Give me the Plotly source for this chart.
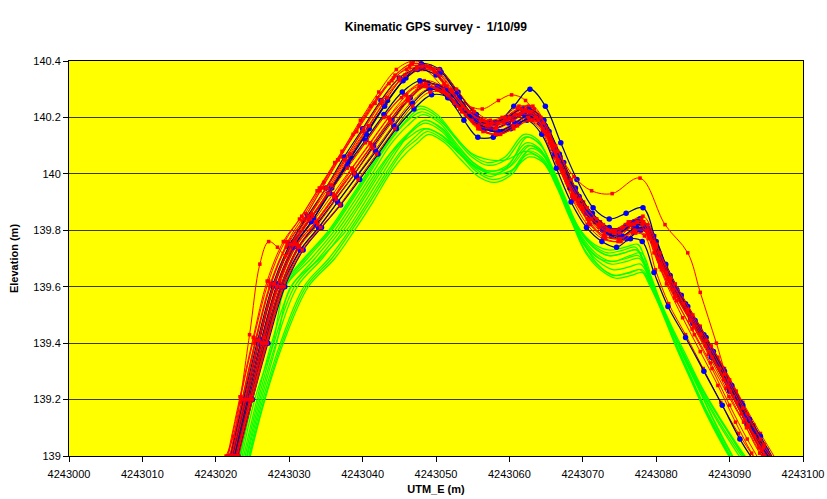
import plotly.graph_objects as go

# Easting values are stored as metres east of this origin (UTM_E, m)
EASTING_ORIGIN = 4243000

# ---- red survey passes (GPS fixes) ----
r1_x = [21.8, 23.5, 25.3, 27.4, 29.6, 31.8, 34.2, 36.7, 39.2, 41.7, 44.2, 46.6, 48.9, 51.3, 53.8, 56.3, 58.5, 60.3, 62.2, 64.0, 66.0, 68.1, 70.2, 72.4, 74.6, 76.5, 78.2, 79.8, 81.4, 83.5, 86.0, 88.4, 90.9, 93.3, 95.6]
r1_y = [138.98, 139.19, 139.40, 139.60, 139.74, 139.83, 139.94, 140.05, 140.15, 140.25, 140.34, 140.39, 140.38, 140.31, 140.25, 140.23, 140.26, 140.28, 140.26, 140.18, 140.06, 139.95, 139.87, 139.82, 139.80, 139.83, 139.85, 139.78, 139.67, 139.57, 139.46, 139.35, 139.23, 139.11, 138.99]

r2_x = [22.2, 24.0, 25.9, 28.0, 30.4, 33.0, 35.6, 38.2, 40.8, 43.3, 45.8, 48.2, 50.6, 53.1, 55.6, 58.0, 60.4, 62.6, 64.7, 66.8, 69.0, 71.3, 73.6, 75.8, 77.8, 79.6, 81.6, 84.2, 86.8, 89.3, 91.8, 94.2, 96.5]
r2_y = [139.00, 139.20, 139.41, 139.61, 139.76, 139.86, 139.96, 140.07, 140.17, 140.27, 140.35, 140.38, 140.35, 140.27, 140.20, 140.18, 140.21, 140.24, 140.18, 140.06, 139.94, 139.85, 139.80, 139.82, 139.83, 139.76, 139.64, 139.53, 139.42, 139.31, 139.19, 139.08, 138.98]

r3_x = [21.6, 23.3, 25.1, 27.0, 29.2, 31.4, 33.8, 36.2, 38.7, 41.1, 43.6, 46.0, 48.4, 50.8, 53.3, 55.8, 58.2, 60.6, 62.8, 64.9, 67.0, 69.2, 71.5, 73.8, 75.9, 77.7, 79.3, 81.0, 83.3, 85.8, 88.3, 90.7, 93.1, 95.2]
r3_y = [139.00, 139.21, 139.42, 139.62, 139.76, 139.84, 139.94, 140.04, 140.14, 140.24, 140.32, 140.37, 140.37, 140.31, 140.23, 140.18, 140.17, 140.20, 140.23, 140.17, 140.05, 139.93, 139.84, 139.79, 139.81, 139.84, 139.79, 139.68, 139.57, 139.46, 139.34, 139.22, 139.10, 138.99]

r4_x = [22.4, 24.2, 26.1, 28.2, 30.6, 33.1, 35.7, 38.3, 40.8, 43.2, 45.6, 47.9, 50.2, 52.6, 55.0, 57.4, 59.7, 61.8, 63.8, 65.8, 67.9, 70.1, 72.4, 74.6, 76.7, 78.5, 80.3, 82.4, 84.9, 87.4, 89.9, 92.4, 94.8, 96.9]
r4_y = [138.99, 139.19, 139.40, 139.60, 139.75, 139.85, 139.95, 140.06, 140.16, 140.25, 140.33, 140.37, 140.36, 140.30, 140.23, 140.19, 140.20, 140.23, 140.21, 140.12, 140.00, 139.90, 139.83, 139.80, 139.83, 139.81, 139.70, 139.60, 139.49, 139.38, 139.26, 139.14, 139.03, 138.96]

r5_x = [22.0, 23.7, 25.5, 27.5, 29.8, 32.2, 34.7, 37.2, 39.7, 42.2, 44.6, 46.9, 49.2, 51.6, 54.0, 56.4, 58.8, 61.1, 63.2, 65.2, 67.3, 69.5, 71.8, 74.0, 76.1, 78.0, 79.7, 81.6, 84.0, 86.5, 89.0, 91.5, 93.9, 96.0]
r5_y = [139.00, 139.20, 139.41, 139.61, 139.76, 139.86, 139.97, 140.08, 140.19, 140.29, 140.37, 140.40, 140.38, 140.30, 140.22, 140.18, 140.19, 140.23, 140.24, 140.16, 140.03, 139.92, 139.84, 139.80, 139.82, 139.84, 139.75, 139.63, 139.52, 139.41, 139.29, 139.17, 139.06, 138.97]

r6_x = [22.8, 24.7, 26.7, 28.9, 31.3, 33.8, 36.3, 38.8, 41.3, 43.8, 46.2, 48.6, 51.0, 53.4, 55.8, 58.2, 60.6, 62.8, 64.8, 66.8, 68.9, 71.1, 73.3, 75.4, 77.3, 79.0, 80.7, 82.8, 85.3, 87.8, 90.3, 92.7, 95.0, 97.0]
r6_y = [139.00, 139.20, 139.40, 139.60, 139.74, 139.83, 139.92, 140.01, 140.10, 140.19, 140.27, 140.32, 140.30, 140.23, 140.17, 140.15, 140.18, 140.21, 140.16, 140.05, 139.93, 139.84, 139.79, 139.78, 139.81, 139.79, 139.68, 139.58, 139.47, 139.36, 139.24, 139.13, 139.02, 138.95]

r7_x = [22.5, 24.4, 26.4, 28.6, 31.0, 33.5, 36.0, 38.5, 41.0, 43.5, 46.0, 48.4, 50.8, 53.2, 55.6, 58.0, 60.3, 62.4, 64.4, 66.4, 68.5, 70.7, 72.9, 75.0, 77.0, 78.7, 80.4, 82.5, 85.0, 87.5, 90.0, 92.4, 94.6, 96.6]
r7_y = [139.00, 139.21, 139.41, 139.61, 139.75, 139.84, 139.93, 140.02, 140.11, 140.20, 140.28, 140.33, 140.31, 140.24, 140.18, 140.16, 140.19, 140.22, 140.18, 140.07, 139.95, 139.86, 139.80, 139.78, 139.82, 139.80, 139.69, 139.58, 139.47, 139.36, 139.24, 139.12, 139.02, 138.95]

r8_x = [22.3, 24.1, 26.0, 28.1, 30.5, 33.0, 35.5, 38.0, 40.6, 43.1, 45.6, 48.0, 50.4, 52.8, 55.2, 57.6, 60.0, 62.2, 64.2, 66.2, 68.2, 70.3, 72.5, 74.7, 76.8, 78.6, 80.2, 82.1, 84.5, 86.9, 89.4, 91.8, 94.1, 96.2]
r8_y = [139.00, 139.20, 139.41, 139.61, 139.76, 139.85, 139.94, 140.03, 140.12, 140.21, 140.28, 140.32, 140.30, 140.24, 140.18, 140.16, 140.18, 140.21, 140.19, 140.09, 139.97, 139.88, 139.82, 139.79, 139.81, 139.82, 139.73, 139.62, 139.51, 139.40, 139.28, 139.16, 139.05, 138.97]

r9_x = [23.0, 24.9, 26.9, 29.2, 31.6, 34.1, 36.6, 39.1, 41.6, 44.1, 46.5, 48.9, 51.3, 53.7, 56.1, 58.5, 60.8, 62.9, 64.8, 66.7, 68.6, 70.6, 72.7, 74.8, 76.8, 78.4, 79.9, 81.7, 84.0, 86.4, 88.8, 91.2, 93.5, 95.4]
r9_y = [139.00, 139.20, 139.40, 139.60, 139.73, 139.81, 139.90, 139.99, 140.08, 140.17, 140.25, 140.30, 140.29, 140.22, 140.16, 140.14, 140.17, 140.20, 140.15, 140.03, 139.91, 139.82, 139.77, 139.76, 139.79, 139.78, 139.66, 139.54, 139.43, 139.31, 139.19, 139.08, 138.99, 138.93]

r10_x = [22.6, 24.5, 26.5, 28.7, 31.1, 33.6, 36.1, 38.6, 41.1, 43.6, 46.1, 48.5, 50.9, 53.3, 55.7, 58.1, 60.4, 62.5, 64.5, 66.5, 68.5, 70.6, 72.8, 74.9, 76.9, 78.6, 80.2, 82.2, 84.6, 87.1, 89.5, 91.9, 94.1, 96.0]
r10_y = [139.00, 139.20, 139.41, 139.61, 139.75, 139.83, 139.92, 140.02, 140.11, 140.20, 140.27, 140.31, 140.29, 140.23, 140.17, 140.15, 140.17, 140.19, 140.15, 140.04, 139.92, 139.84, 139.78, 139.77, 139.80, 139.80, 139.70, 139.59, 139.48, 139.36, 139.24, 139.12, 139.01, 138.95]

r11_x = [22.9, 24.8, 26.8, 29.0, 31.4, 33.9, 36.4, 38.9, 41.4, 43.9, 46.3, 48.7, 51.1, 53.5, 55.9, 58.3, 60.6, 62.7, 64.7, 66.7, 68.7, 70.8, 73.0, 75.1, 77.1, 78.8, 80.5, 82.6, 85.1, 87.6, 90.1, 92.5, 94.8, 96.8]
r11_y = [139.00, 139.20, 139.40, 139.60, 139.74, 139.82, 139.91, 140.00, 140.09, 140.18, 140.26, 140.31, 140.29, 140.22, 140.16, 140.14, 140.16, 140.19, 140.15, 140.04, 139.92, 139.83, 139.78, 139.77, 139.80, 139.79, 139.68, 139.57, 139.46, 139.35, 139.23, 139.11, 139.00, 138.93]

r12_x = [22.1, 23.9, 25.8, 27.9, 30.2, 32.6, 35.1, 37.6, 40.1, 42.6, 45.0, 47.4, 49.7, 52.1, 54.5, 56.9, 59.2, 61.4, 63.5, 65.5, 67.6, 69.8, 72.0, 74.2, 76.3, 78.2, 79.9, 81.8, 84.2, 86.7, 89.2, 91.6, 94.0, 96.2]
r12_y = [139.00, 139.20, 139.41, 139.61, 139.75, 139.85, 139.95, 140.05, 140.16, 140.26, 140.34, 140.38, 140.37, 140.30, 140.22, 140.17, 140.18, 140.21, 140.20, 140.11, 139.99, 139.89, 139.82, 139.79, 139.82, 139.83, 139.74, 139.62, 139.51, 139.39, 139.27, 139.15, 139.03, 138.96]

# pass with a spurious jump near the start of the profile
r13_x = [21.4, 22.4, 24.6, 26.0, 27.2, 28.4, 29.5, 30.8, 32.6, 35.0, 37.5, 40.0, 42.5, 45.0, 47.4, 49.8, 52.2, 54.6, 57.0, 59.4, 61.6, 63.7, 65.7, 67.8, 70.0, 72.2, 74.4, 76.5, 78.3, 80.0, 81.9, 84.3, 86.8, 89.3, 91.8, 94.2, 96.4]
r13_y = [139.00, 139.07, 139.43, 139.68, 139.76, 139.74, 139.71, 139.76, 139.84, 139.95, 140.05, 140.15, 140.25, 140.33, 140.37, 140.36, 140.29, 140.22, 140.18, 140.20, 140.23, 140.20, 140.10, 139.97, 139.88, 139.82, 139.80, 139.82, 139.83, 139.75, 139.63, 139.52, 139.41, 139.29, 139.17, 139.06, 138.97]

# pass that stays high over the shoulder east of the second hump
r14_x = [22.7, 24.6, 26.6, 28.8, 31.2, 33.7, 36.2, 38.7, 41.2, 43.7, 46.2, 48.6, 51.0, 53.4, 55.8, 58.2, 60.5, 62.6, 64.6, 66.6, 68.8, 71.2, 74.0, 77.8, 81.2, 84.3, 86.0, 88.2, 90.5, 92.6, 94.6, 96.6]
r14_y = [139.00, 139.20, 139.40, 139.60, 139.74, 139.83, 139.92, 140.01, 140.10, 140.19, 140.27, 140.32, 140.30, 140.23, 140.17, 140.16, 140.19, 140.22, 140.18, 140.08, 139.99, 139.94, 139.93, 139.985, 139.82, 139.72, 139.58, 139.40, 139.21, 139.11, 139.03, 138.96]

r15_x = [21.9, 23.6, 25.4, 27.4, 29.7, 32.0, 34.5, 37.0, 39.5, 42.0, 44.4, 46.8, 49.1, 51.5, 54.0, 56.5, 59.0, 61.3, 63.4, 65.4, 67.4, 69.6, 71.9, 74.1, 76.2, 78.0, 79.6, 81.4, 83.7, 86.1, 88.6, 91.0, 93.4, 95.5]
r15_y = [139.00, 139.20, 139.41, 139.61, 139.75, 139.84, 139.95, 140.06, 140.17, 140.27, 140.35, 140.39, 140.38, 140.31, 140.23, 140.19, 140.20, 140.24, 140.23, 140.14, 140.01, 139.91, 139.84, 139.80, 139.83, 139.84, 139.76, 139.65, 139.54, 139.43, 139.31, 139.19, 139.07, 138.98]

r16_x = [23.1, 25.0, 27.0, 29.3, 31.8, 34.3, 36.9, 39.4, 41.9, 44.4, 46.8, 49.2, 51.6, 54.0, 56.4, 58.8, 61.1, 63.2, 65.1, 67.0, 69.0, 71.0, 73.1, 75.2, 77.2, 78.9, 80.5, 82.5, 84.9, 87.4, 89.9, 92.3, 94.5, 96.4]
r16_y = [139.00, 139.20, 139.40, 139.60, 139.73, 139.81, 139.89, 139.98, 140.07, 140.16, 140.24, 140.29, 140.28, 140.21, 140.15, 140.14, 140.17, 140.19, 140.14, 140.03, 139.91, 139.82, 139.77, 139.76, 139.79, 139.78, 139.67, 139.56, 139.45, 139.33, 139.21, 139.10, 139.00, 138.94]

r17_x = [22.2, 24.0, 25.9, 28.0, 30.4, 32.9, 35.4, 37.9, 40.4, 42.9, 45.3, 47.7, 50.1, 52.5, 54.9, 57.3, 59.7, 61.9, 63.9, 65.9, 67.9, 70.0, 72.2, 74.4, 76.5, 78.2, 79.7, 81.4, 83.6, 86.0, 88.4, 90.8, 93.0, 94.8]
r17_y = [139.00, 139.20, 139.41, 139.61, 139.75, 139.84, 139.93, 140.02, 140.11, 140.20, 140.27, 140.31, 140.30, 140.25, 140.19, 140.17, 140.19, 140.22, 140.19, 140.09, 139.97, 139.87, 139.81, 139.79, 139.82, 139.82, 139.72, 139.61, 139.49, 139.37, 139.25, 139.12, 139.01, 138.93]

r18_x = [21.7, 23.4, 25.2, 27.2, 29.4, 31.7, 34.1, 36.6, 39.1, 41.6, 44.0, 46.4, 48.7, 51.1, 53.6, 56.1, 58.5, 60.8, 62.9, 64.9, 66.9, 69.0, 71.2, 73.4, 75.5, 77.4, 79.0, 80.7, 82.8, 85.2, 87.6, 90.0, 92.4, 94.4]
r18_y = [139.00, 139.21, 139.42, 139.62, 139.76, 139.85, 139.95, 140.05, 140.15, 140.25, 140.33, 140.38, 140.38, 140.32, 140.24, 140.19, 140.18, 140.21, 140.22, 140.15, 140.03, 139.92, 139.84, 139.80, 139.81, 139.83, 139.77, 139.66, 139.55, 139.43, 139.31, 139.18, 139.06, 138.97]

r19_x = [22.9, 24.7, 26.6, 28.7, 31.1, 33.6, 36.1, 38.7, 41.2, 43.7, 46.1, 48.5, 50.9, 53.3, 55.7, 58.1, 60.5, 62.6, 64.6, 66.6, 68.6, 70.7, 72.9, 75.0, 77.0, 78.7, 80.3, 82.3, 84.7, 87.2, 89.7, 92.1, 94.4, 96.3]
r19_y = [139.00, 139.21, 139.42, 139.62, 139.75, 139.83, 139.92, 140.01, 140.10, 140.19, 140.26, 140.31, 140.29, 140.23, 140.16, 140.14, 140.17, 140.20, 140.16, 140.05, 139.93, 139.84, 139.79, 139.77, 139.80, 139.80, 139.70, 139.59, 139.48, 139.37, 139.25, 139.13, 139.02, 138.95]

r20_x = [22.4, 24.2, 26.2, 28.3, 30.7, 33.2, 35.8, 38.4, 40.9, 43.4, 45.8, 48.1, 50.4, 52.8, 55.2, 57.6, 60.0, 62.2, 64.3, 66.3, 68.4, 70.6, 72.8, 75.0, 77.0, 78.8, 80.5, 82.6, 85.0, 87.5, 90.0, 92.4, 94.7, 96.7]
r20_y = [139.00, 139.20, 139.40, 139.60, 139.75, 139.85, 139.96, 140.07, 140.17, 140.27, 140.35, 140.38, 140.37, 140.30, 140.22, 140.18, 140.20, 140.23, 140.20, 140.10, 139.98, 139.88, 139.82, 139.79, 139.82, 139.82, 139.72, 139.61, 139.50, 139.39, 139.27, 139.15, 139.04, 138.96]

# ---- blue survey passes (GPS fixes) ----
b1_x = [22.3, 24.2, 26.2, 28.4, 30.8, 33.3, 35.8, 38.4, 40.9, 43.4, 45.9, 48.3, 50.7, 53.2, 55.7, 58.2, 60.6, 62.8, 64.9, 67.0, 69.2, 71.4, 73.6, 75.9, 78.2, 80.0, 81.9, 84.3, 86.8, 89.3, 91.8, 94.2, 96.4]
b1_y = [139.00, 139.20, 139.41, 139.61, 139.75, 139.84, 139.95, 140.06, 140.16, 140.26, 140.34, 140.38, 140.36, 140.27, 140.19, 140.18, 140.24, 140.30, 140.24, 140.11, 139.98, 139.88, 139.84, 139.86, 139.88, 139.76, 139.64, 139.53, 139.42, 139.30, 139.18, 139.07, 138.97]

b2_x = [22.5, 24.3, 26.2, 28.3, 30.6, 33.0, 35.5, 38.0, 40.5, 43.0, 45.5, 48.0, 50.5, 53.0, 55.5, 58.0, 60.4, 62.6, 64.7, 66.8, 69.0, 71.3, 73.6, 75.8, 77.8, 79.6, 81.5, 84.0, 86.5, 89.0, 91.5, 94.0, 96.3]
b2_y = [139.00, 139.20, 139.40, 139.60, 139.74, 139.83, 139.93, 140.04, 140.14, 140.24, 140.33, 140.39, 140.37, 140.29, 140.21, 140.18, 140.20, 140.23, 140.19, 140.07, 139.95, 139.86, 139.81, 139.81, 139.84, 139.76, 139.65, 139.54, 139.43, 139.31, 139.19, 139.07, 138.97]

b3_x = [22.7, 24.6, 26.7, 29.0, 31.5, 34.0, 36.6, 39.2, 41.8, 44.3, 46.8, 49.2, 51.6, 53.8, 55.7, 57.8, 60.2, 62.4, 64.4, 66.4, 68.4, 70.5, 72.6, 74.6, 76.5, 78.1, 79.7, 81.6, 84.0, 86.5, 89.0, 91.4, 93.7, 95.6]
b3_y = [139.00, 139.20, 139.40, 139.60, 139.73, 139.81, 139.90, 139.99, 140.08, 140.17, 140.25, 140.30, 140.27, 140.19, 140.13, 140.13, 140.16, 140.19, 140.14, 140.02, 139.90, 139.81, 139.76, 139.74, 139.77, 139.76, 139.65, 139.53, 139.42, 139.30, 139.18, 139.06, 138.97, 138.92]

b4_x = [23.0, 25.0, 27.1, 29.4, 31.9, 34.4, 37.0, 39.6, 42.1, 44.6, 47.0, 49.4, 51.8, 54.2, 56.6, 59.0, 61.3, 63.4, 65.4, 67.4, 69.5, 71.7, 73.9, 76.0, 77.9, 79.6, 81.3, 83.4, 85.9, 88.4, 90.9, 93.3, 95.5, 97.2]
b4_y = [139.00, 139.20, 139.40, 139.60, 139.73, 139.81, 139.89, 139.98, 140.07, 140.16, 140.23, 140.28, 140.27, 140.21, 140.16, 140.15, 140.18, 140.20, 140.15, 140.04, 139.92, 139.83, 139.78, 139.77, 139.80, 139.78, 139.68, 139.57, 139.45, 139.33, 139.21, 139.09, 138.99, 138.94]

b5_x = [22.0, 23.8, 25.7, 27.8, 30.1, 32.5, 35.0, 37.5, 40.0, 42.5, 45.0, 47.5, 50.0, 52.4, 54.8, 57.2, 59.6, 61.8, 63.9, 66.0, 68.2, 70.5, 72.8, 75.0, 77.0, 78.8, 80.6, 82.8, 85.3, 87.8, 90.3, 92.7, 95.0, 96.9]
b5_y = [139.00, 139.20, 139.41, 139.61, 139.75, 139.85, 139.95, 140.06, 140.16, 140.26, 140.34, 140.37, 140.35, 140.28, 140.21, 140.18, 140.20, 140.23, 140.20, 140.09, 139.97, 139.87, 139.81, 139.80, 139.83, 139.81, 139.70, 139.59, 139.48, 139.37, 139.25, 139.13, 139.02, 138.95]

b6_x = [22.6, 24.5, 26.5, 28.8, 31.2, 33.7, 36.3, 38.9, 41.5, 44.0, 46.5, 48.9, 51.3, 53.7, 56.1, 58.5, 60.8, 62.9, 64.9, 66.9, 68.9, 71.0, 73.2, 75.3, 77.3, 79.0, 80.6, 82.6, 85.0, 87.5, 90.0, 92.4, 94.7, 96.6]
b6_y = [139.00, 139.20, 139.40, 139.60, 139.74, 139.82, 139.91, 140.00, 140.10, 140.19, 140.27, 140.32, 140.30, 140.23, 140.17, 140.15, 140.18, 140.21, 140.17, 140.06, 139.94, 139.85, 139.79, 139.78, 139.81, 139.80, 139.70, 139.58, 139.47, 139.35, 139.23, 139.11, 139.00, 138.94]

b7_x = [22.2, 24.0, 25.9, 28.0, 30.4, 32.9, 35.4, 37.9, 40.4, 42.9, 45.4, 47.8, 50.2, 52.6, 55.0, 57.4, 59.8, 62.0, 64.1, 66.2, 68.3, 70.5, 72.7, 74.9, 76.9, 78.6, 80.3, 82.3, 84.7, 87.2, 89.7, 92.1, 94.4, 96.4]
b7_y = [139.00, 139.20, 139.41, 139.61, 139.75, 139.84, 139.93, 140.03, 140.12, 140.21, 140.29, 140.33, 140.31, 140.25, 140.19, 140.16, 140.18, 140.21, 140.18, 140.07, 139.95, 139.86, 139.80, 139.79, 139.82, 139.81, 139.71, 139.60, 139.49, 139.38, 139.26, 139.14, 139.03, 138.96]

# ---- green survey passes (lower set, plotted without fixes) ----
g1_x = [23.2, 24.8, 26.6, 29.0, 32.0, 35.4, 38.0, 40.5, 42.9, 45.4, 47.8, 50.2, 52.4, 54.8, 57.0, 59.4, 62.0, 63.9, 65.8, 67.6, 69.4, 71.3, 73.4, 75.5, 77.2, 78.6, 80.0, 81.8, 83.8, 86.0, 88.0, 90.0, 91.5]
g1_y = [139.00, 139.20, 139.40, 139.60, 139.70, 139.80, 139.90, 140.00, 140.10, 140.19, 140.24, 140.21, 140.14, 140.07, 140.04, 140.06, 140.14, 140.12, 140.02, 139.91, 139.81, 139.75, 139.72, 139.73, 139.74, 139.67, 139.58, 139.47, 139.35, 139.23, 139.12, 139.02, 138.95]

g2_x = [23.4, 25.0, 26.9, 29.4, 32.5, 35.8, 38.4, 40.9, 43.3, 45.8, 48.0, 50.4, 52.6, 55.0, 57.2, 59.6, 62.2, 64.0, 65.9, 67.7, 69.5, 71.4, 73.5, 75.6, 77.3, 78.7, 80.1, 81.9, 83.9, 86.1, 88.1, 90.1, 91.6]
g2_y = [139.00, 139.20, 139.40, 139.60, 139.70, 139.80, 139.90, 140.00, 140.10, 140.18, 140.22, 140.19, 140.13, 140.07, 140.05, 140.05, 140.08, 140.06, 139.99, 139.89, 139.80, 139.74, 139.71, 139.72, 139.73, 139.66, 139.57, 139.46, 139.34, 139.22, 139.11, 139.01, 138.94]

g3_x = [23.6, 25.3, 27.8, 29.5, 33.0, 36.2, 38.8, 41.3, 43.7, 46.1, 48.2, 50.5, 52.7, 55.1, 57.3, 59.7, 62.3, 64.1, 66.0, 67.8, 69.7, 71.6, 73.7, 75.8, 77.5, 78.9, 80.3, 82.1, 84.1, 86.3, 88.4, 90.8, 92.6]
g3_y = [139.00, 139.20, 139.40, 139.60, 139.70, 139.80, 139.90, 140.00, 140.10, 140.17, 140.21, 140.18, 140.11, 140.04, 140.01, 140.03, 140.11, 140.09, 140.00, 139.89, 139.80, 139.75, 139.73, 139.74, 139.75, 139.66, 139.56, 139.45, 139.34, 139.22, 139.12, 139.02, 138.95]

g4_x = [23.8, 25.6, 27.6, 30.3, 33.5, 36.6, 39.2, 41.7, 44.0, 46.3, 48.3, 50.6, 52.8, 55.2, 57.4, 59.8, 62.4, 64.2, 66.1, 67.9, 69.8, 71.7, 73.8, 75.9, 77.6, 79.0, 80.4, 82.2, 84.2, 86.4, 88.6, 91.1, 93.0]
g4_y = [139.00, 139.20, 139.40, 139.60, 139.70, 139.80, 139.90, 140.00, 140.08, 140.13, 140.16, 140.14, 140.09, 140.03, 140.00, 140.02, 140.10, 140.08, 139.99, 139.88, 139.78, 139.72, 139.69, 139.70, 139.71, 139.64, 139.55, 139.44, 139.33, 139.22, 139.12, 139.02, 138.95]

g5_x = [24.0, 25.8, 27.9, 30.7, 34.0, 37.0, 39.6, 42.0, 44.3, 46.5, 48.4, 50.7, 52.9, 55.3, 57.5, 59.9, 62.4, 64.3, 66.2, 68.0, 69.9, 71.8, 73.9, 76.0, 77.7, 79.1, 80.6, 82.5, 84.6, 86.9, 89.2, 91.6, 93.3]
g5_y = [139.00, 139.20, 139.40, 139.60, 139.70, 139.80, 139.90, 140.00, 140.09, 140.15, 140.19, 140.16, 140.09, 140.02, 139.99, 140.03, 140.13, 140.10, 140.00, 139.88, 139.77, 139.71, 139.68, 139.69, 139.70, 139.63, 139.54, 139.43, 139.32, 139.21, 139.11, 139.01, 138.95]

g6_x = [24.2, 26.0, 28.2, 31.1, 34.5, 37.4, 39.9, 42.3, 44.6, 46.7, 48.5, 50.8, 53.0, 55.4, 57.6, 60.0, 62.5, 64.4, 66.3, 68.1, 70.0, 72.0, 74.1, 76.2, 77.8, 79.2, 80.7, 82.6, 84.7, 87.0, 89.4, 91.9, 93.5]
g6_y = [139.00, 139.20, 139.40, 139.60, 139.70, 139.80, 139.90, 140.00, 140.09, 140.15, 140.18, 140.15, 140.08, 140.01, 139.98, 140.00, 140.08, 140.06, 139.97, 139.86, 139.76, 139.68, 139.64, 139.65, 139.66, 139.60, 139.52, 139.42, 139.31, 139.20, 139.10, 139.00, 138.94]

g7_x = [24.3, 26.2, 28.3, 30.2, 34.2, 37.8, 40.3, 42.7, 44.9, 46.9, 48.6, 50.9, 53.1, 55.5, 57.7, 60.1, 62.6, 64.5, 66.4, 68.2, 70.1, 72.1, 74.2, 76.3, 77.9, 79.3, 80.8, 82.5, 84.4, 86.5, 88.5, 90.3, 91.6]
g7_y = [139.00, 139.20, 139.40, 139.60, 139.70, 139.80, 139.90, 140.00, 140.09, 140.16, 140.19, 140.16, 140.09, 140.03, 140.00, 140.01, 140.07, 140.05, 139.96, 139.85, 139.75, 139.69, 139.66, 139.67, 139.68, 139.61, 139.52, 139.41, 139.30, 139.18, 139.08, 138.99, 138.93]

g8_x = [24.5, 26.4, 28.8, 32.0, 35.4, 38.2, 40.7, 43.1, 45.2, 47.1, 48.7, 51.0, 53.2, 55.6, 57.8, 60.2, 62.7, 64.6, 66.5, 68.3, 70.2, 72.2, 74.3, 76.4, 78.0, 79.4, 80.9, 82.6, 84.5, 86.6, 88.6, 90.4, 91.7]
g8_y = [139.00, 139.20, 139.40, 139.60, 139.70, 139.80, 139.90, 140.00, 140.08, 140.13, 140.16, 140.13, 140.07, 140.02, 140.00, 140.01, 140.06, 140.04, 139.95, 139.84, 139.75, 139.70, 139.69, 139.71, 139.72, 139.63, 139.52, 139.40, 139.29, 139.17, 139.07, 138.98, 138.93]

g9_x = [24.6, 26.6, 29.0, 32.3, 35.8, 38.5, 41.0, 43.4, 45.5, 47.3, 48.8, 51.1, 53.3, 55.7, 57.9, 60.3, 62.8, 64.7, 66.6, 68.4, 70.3, 72.3, 74.4, 76.5, 78.1, 79.5, 81.0, 82.7, 84.6, 86.7, 88.7, 90.5, 91.8]
g9_y = [139.00, 139.20, 139.40, 139.60, 139.70, 139.80, 139.90, 140.00, 140.08, 140.12, 140.15, 140.12, 140.07, 140.02, 140.01, 140.03, 140.10, 140.07, 139.96, 139.84, 139.73, 139.67, 139.64, 139.65, 139.66, 139.59, 139.50, 139.39, 139.28, 139.16, 139.06, 138.98, 138.93]

g10_x = [24.7, 26.7, 29.2, 32.6, 36.2, 38.9, 41.4, 43.7, 45.8, 47.5, 49.0, 51.2, 53.4, 55.8, 58.0, 60.4, 62.9, 64.8, 66.7, 68.5, 70.4, 72.4, 74.5, 76.6, 78.2, 79.6, 81.1, 82.8, 84.7, 86.8, 88.8, 90.6, 91.9]
g10_y = [139.00, 139.20, 139.40, 139.60, 139.70, 139.80, 139.90, 140.00, 140.07, 140.11, 140.14, 140.11, 140.05, 139.99, 139.97, 140.00, 140.09, 140.06, 139.95, 139.83, 139.72, 139.66, 139.63, 139.64, 139.65, 139.58, 139.49, 139.38, 139.27, 139.15, 139.05, 138.97, 138.92]

g11_x = [23.3, 24.9, 26.8, 29.2, 32.2, 35.6, 38.2, 40.7, 43.1, 45.6, 47.9, 50.3, 52.5, 54.9, 57.1, 59.5, 62.1, 64.0, 65.9, 67.7, 69.6, 71.5, 73.6, 75.7, 77.4, 78.8, 80.2, 82.1, 84.2, 86.5, 88.8, 91.3, 93.2]
g11_y = [139.00, 139.20, 139.40, 139.60, 139.70, 139.80, 139.90, 140.00, 140.10, 140.18, 140.23, 140.20, 140.13, 140.06, 140.03, 140.05, 140.13, 140.11, 140.02, 139.91, 139.80, 139.74, 139.71, 139.72, 139.73, 139.66, 139.57, 139.46, 139.35, 139.23, 139.13, 139.03, 138.96]

# ---- axis settings ----
X_RANGE = [4243000, 4243100]
X_TICKS = [4243000, 4243010, 4243020, 4243030, 4243040, 4243050,
           4243060, 4243070, 4243080, 4243090, 4243100]
Y_RANGE = [139, 140.4]
Y_TICKS = [139, 139.2, 139.4, 139.6, 139.8, 140, 140.2, 140.4]

TITLE = "Kinematic GPS survey -  1/10/99"
X_TITLE = "UTM_E (m)"
Y_TITLE = "Elevation (m)"

RED = "#ff0000"
NAVY = "#000080"
BLUE = "#0000ff"
GREEN = "#00ff00"
FONT_FAMILY = "Liberation Sans, Arial, sans-serif"

green_passes = [(g1_x, g1_y), (g2_x, g2_y), (g3_x, g3_y), (g4_x, g4_y), (g5_x, g5_y),
                (g6_x, g6_y), (g7_x, g7_y), (g8_x, g8_y), (g9_x, g9_y), (g10_x, g10_y),
                (g11_x, g11_y)]
red_passes = [(r1_x, r1_y), (r2_x, r2_y), (r3_x, r3_y), (r4_x, r4_y), (r5_x, r5_y),
              (r6_x, r6_y), (r7_x, r7_y), (r8_x, r8_y), (r9_x, r9_y), (r10_x, r10_y),
              (r11_x, r11_y), (r12_x, r12_y), (r13_x, r13_y), (r14_x, r14_y),
              (r15_x, r15_y), (r16_x, r16_y), (r17_x, r17_y), (r18_x, r18_y),
              (r19_x, r19_y), (r20_x, r20_y)]
blue_passes = [(b1_x, b1_y), (b2_x, b2_y), (b3_x, b3_y), (b4_x, b4_y), (b5_x, b5_y),
               (b6_x, b6_y), (b7_x, b7_y)]


def easting(values):
    return [EASTING_ORIGIN + v for v in values]


def add_pass(fig, px, py, kind):
    if kind == "green":
        fig.add_trace(go.Scatter(
            x=easting(px), y=py, mode="lines",
            line=dict(color=GREEN, width=1.2, shape="spline", smoothing=1.0),
            hoverinfo="skip", showlegend=False))
        return
    if kind == "red":
        line = dict(color=RED, width=1.0, shape="spline", smoothing=1.0)
        marker = dict(symbol="square", size=3.5, color=RED)
    else:
        line = dict(color=NAVY, width=1.2, shape="spline", smoothing=1.0)
        marker = dict(symbol="circle", size=5.5, color=BLUE)
    fig.add_trace(go.Scatter(
        x=easting(px), y=py, mode="lines+markers",
        line=line, marker=marker, hoverinfo="skip", showlegend=False))


fig = go.Figure()

for gx, gy in green_passes:
    add_pass(fig, gx, gy, "green")

# half of the red passes below the blue ones, half above
for px, py in red_passes[:10]:
    add_pass(fig, px, py, "red")
for px, py in blue_passes:
    add_pass(fig, px, py, "blue")
for px, py in red_passes[10:]:
    add_pass(fig, px, py, "red")

AXIS_FONT = dict(family=FONT_FAMILY, size=11, color="#000000")
TITLE_FONT = dict(family=FONT_FAMILY, size=11, color="#000000")

fig.update_layout(
    width=827, height=499,
    margin=dict(l=69, r=24, t=61, b=43, pad=0),
    paper_bgcolor="#ffffff",
    plot_bgcolor="#ffff00",
    showlegend=False,
    font=AXIS_FONT,
    title=dict(text="<b>" + TITLE + "</b>", x=0.527, xanchor="center",
               y=0.946, yanchor="middle",
               font=dict(family=FONT_FAMILY, size=12, color="#000000")),
    xaxis=dict(
        range=X_RANGE, tickvals=X_TICKS, tickformat="d", automargin=False,
        showgrid=False, zeroline=False,
        showline=True, linecolor="#000000", linewidth=1, mirror=True,
        ticks="outside", ticklen=5, tickcolor="#000000", tickwidth=1,
        ticklabelstandoff=3,
        tickfont=AXIS_FONT,
        title=dict(text="<b>" + X_TITLE + "</b>", standoff=6, font=TITLE_FONT),
    ),
    yaxis=dict(
        range=Y_RANGE, tickvals=Y_TICKS, automargin=False,
        showgrid=True, gridcolor="#3c3c10", gridwidth=1, zeroline=False,
        showline=True, linecolor="#000000", linewidth=1, mirror=True,
        ticks="outside", ticklen=5, tickcolor="#000000", tickwidth=1,
        tickfont=AXIS_FONT,
        title=dict(text="<b>" + Y_TITLE + "</b>", standoff=12, font=TITLE_FONT),
    ),
)

fig.write_html("out.html")
